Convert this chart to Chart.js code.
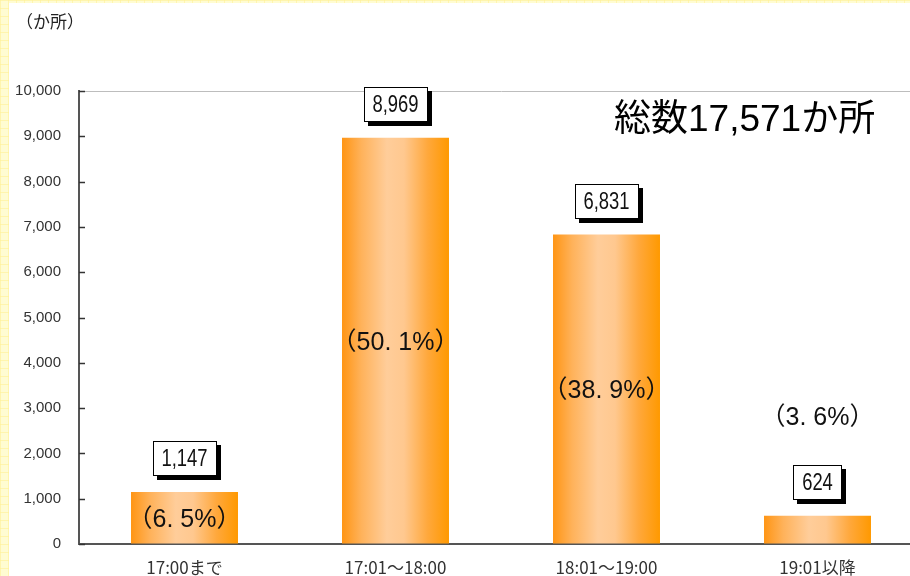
<!DOCTYPE html>
<html lang="ja">
<head>
<meta charset="utf-8">
<title>時間帯別か所数</title>
<script src="https://cdn.jsdelivr.net/npm/chart.js@4.4.1/dist/chart.umd.min.js"></script>
<style>
  html, body { margin: 0; padding: 0; }
  body { width: 910px; height: 576px; overflow: hidden; }
  .frame {
    position: relative; width: 910px; height: 576px; overflow: hidden;
    background-color: #fffcd2;
    background-image:
      linear-gradient(90deg, rgba(255,240,150,0.6) 1px, transparent 1px),
      linear-gradient(rgba(255,240,150,0.6) 1px, transparent 1px);
    background-size: 8px 8px;
  }
  .paper { position: absolute; left: 9px; top: 3px; right: 0; bottom: 0; background: #fff; }
  .holder { position: absolute; left: 0; top: 0; width: 925px; height: 576px; }
</style>
</head>
<body>
<div class="frame">
  <div class="paper"></div>
  <div class="holder"><canvas id="chart" width="925" height="576"></canvas></div>
</div>
<script>
(function(){
  var categories = ["17:00まで", "17:01～18:00", "18:01～19:00", "19:01以降"];
  var counts = [1147, 8969, 6831, 624];
  var shares = [6.5, 50.1, 38.9, 3.6];
  var yTicks = [0, 1000, 2000, 3000, 4000, 5000, 6000, 7000, 8000, 9000, 10000];

  var JP = '"Noto Sans CJK JP", sans-serif';
  var SANS = '"Liberation Sans", Arial, "Noto Sans CJK JP", sans-serif';

  function fmt(n){ return n.toLocaleString("en-US"); }
  var total = counts.reduce(function(s, v){ return s + v; }, 0);

  // horizontal orange gradient across each bar
  function barFill(ctx){
    var chart = ctx.chart;
    var xs = chart.scales.x;
    if(!xs || !chart.chartArea || ctx.dataIndex === undefined) return "#ff9900";
    var cx = xs.getPixelForValue(ctx.dataIndex);
    var half = (xs.width / categories.length) * 0.507 / 2;
    var g = chart.ctx.createLinearGradient(cx - half, 0, cx + half, 0);
    g.addColorStop(0, "#ff9514");
    g.addColorStop(0.18, "#ffb25a");
    g.addColorStop(0.42, "#ffcd9a");
    g.addColorStop(0.58, "#ffc88f");
    g.addColorStop(0.8, "#ffa83c");
    g.addColorStop(1, "#ff9900");
    return g;
  }

  var extras = {
    id: "extras",
    afterDatasetsDraw: function(chart){
      var c = chart.ctx;
      var ys = chart.scales.y;
      var area = chart.chartArea;

      // short tick marks on the inside of the y axis
      c.save();
      c.strokeStyle = "#333";
      c.lineWidth = 1.5;
      yTicks.forEach(function(v){
        var py = Math.round(ys.getPixelForValue(v)) + 0.5;
        c.beginPath();
        c.moveTo(area.left, py);
        c.lineTo(area.left + 6, py);
        c.stroke();
      });
      c.restore();

      var base = ys.getPixelForValue(0);
      chart.getDatasetMeta(0).data.forEach(function(bar, i){
        // boxed value with a drop shadow, text squeezed to a narrow face
        var txt = fmt(counts[i]);
        var squeeze = 0.8;
        c.save();
        c.font = "23px " + SANS;
        var w = Math.round(c.measureText(txt).width * squeeze) + 18;
        var h = 35;
        var left = Math.round(bar.x - w / 2);
        var bottom = Math.round(bar.y - 16);
        var top = bottom - h;
        c.fillStyle = "#000";
        c.fillRect(left + 4, top + 4, w, h);
        c.fillStyle = "#fff";
        c.fillRect(left, top, w, h);
        c.strokeStyle = "#000";
        c.lineWidth = 1;
        c.strokeRect(left + 0.5, top + 0.5, w - 1, h - 1);
        c.fillStyle = "#111";
        c.textAlign = "center";
        c.textBaseline = "middle";
        c.save();
        c.translate(bar.x, top + h / 2 + 1);
        c.scale(squeeze, 1);
        c.fillText(txt, 0, 0);
        c.restore();

        // share in brackets: inside the bar, or above the box when the bar is short
        var pct = "（" + String(shares[i]).replace(".", ". ") + "%）";
        var py = (base - bar.y) > 40 ? (bar.y + base) / 2 + 2 : top - 47;
        c.font = "25px " + SANS;
        c.fillStyle = "#111";
        c.fillText(pct, bar.x, py);
        c.restore();
      });

      c.save();
      c.fillStyle = "#000";
      c.textBaseline = "middle";
      c.textAlign = "left";
      c.font = "37px " + SANS;
      c.fillText("総数" + fmt(total) + "か所", 614, 121);
      c.fillStyle = "#222";
      c.font = "17px " + JP;
      c.fillText("（か所）", 16, 22);
      c.restore();
    }
  };

  new Chart(document.getElementById("chart"), {
    type: "bar",
    data: {
      labels: categories,
      datasets: [{
        data: counts,
        backgroundColor: barFill,
        borderWidth: 0,
        categoryPercentage: 1,
        barPercentage: 0.507
      }]
    },
    options: {
      responsive: false,
      animation: false,
      events: [],
      layout: { padding: { top: 91, right: 2, left: 0, bottom: 0 } },
      plugins: { legend: { display: false }, tooltip: { enabled: false } },
      scales: {
        x: {
          grid: { display: false, drawTicks: false },
          border: { color: "#555", width: 2 },
          ticks: { color: "#333", font: { family: JP, size: 17 }, padding: 13, maxRotation: 0 },
          afterFit: function(s){ s.height = 32; }
        },
        y: {
          min: 0, max: 10000,
          afterBuildTicks: function(s){ s.ticks = yTicks.map(function(v){ return { value: v }; }); },
          grid: {
            drawTicks: false,
            color: function(ctx){ return ctx.tick && ctx.tick.value === 10000 ? "#bdbdbd" : "rgba(0,0,0,0)"; },
            lineWidth: 1
          },
          border: { color: "#555", width: 2 },
          ticks: {
            color: "#333", padding: 18,
            font: { family: SANS, size: 15 },
            callback: function(v){ return fmt(v); }
          },
          afterFit: function(s){ s.width = 79; }
        }
      }
    },
    plugins: [extras]
  });
})();
</script>
</body>
</html>
